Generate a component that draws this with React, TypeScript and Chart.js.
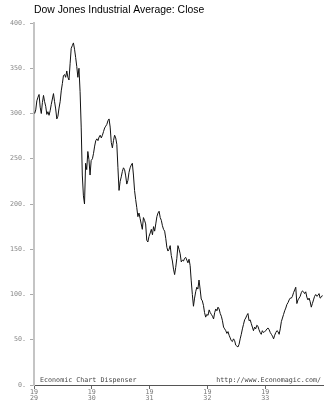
import React, { useEffect, useRef } from 'react';
import { Chart, registerables } from 'chart.js';

Chart.register(...registerables);

const TITLE = 'Dow Jones Industrial Average: Close';
const FOOT_LEFT = 'Economic Chart Dispenser';
const FOOT_RIGHT = 'http://www.Economagic.com/';

const years = [1929, 1930, 1931, 1932, 1933];

// weekly closes
const close1929 = [
  300, 304, 314, 318, 321, 307, 300, 312, 320, 313, 308, 299, 302, 298, 303, 310,
  316, 322, 313, 305, 294, 297, 306, 313, 325, 333, 342, 343, 340, 347, 340, 337,
  355, 372, 375, 378, 371, 362, 352, 340, 350, 324, 285, 232, 209, 200, 245, 238,
  258, 249, 232, 248,
];
const close1930 = [
  250, 256, 264, 270, 272, 270, 274, 276, 273, 276, 280, 284, 286, 288, 292, 294,
  285, 268, 262, 270, 276, 273, 266, 240, 215, 225, 230, 236, 240, 238, 231, 222,
  226, 235, 240, 243, 245, 232, 215, 205, 196, 186, 190, 184, 178, 172, 185, 182,
  178, 160, 158, 164,
];
const close1931 = [
  168, 172, 166, 175, 170, 178, 186, 190, 192, 185, 182, 176, 172, 170, 162, 152,
  148, 150, 154, 143, 137, 128, 122, 130, 140, 154, 150, 145, 136, 138, 137, 140,
  141, 138, 135, 139, 132, 115, 100, 87, 96, 103, 108, 106, 116, 106, 95, 93,
  88, 80, 75, 78,
];
const close1932 = [
  77, 83, 80, 78, 76, 73, 80, 84, 82, 86, 84, 79, 76, 71, 64, 62,
  60, 57, 59, 55, 52, 49, 48, 51, 49, 44, 43, 42, 45, 51, 56, 62,
  67, 72, 74, 77, 79, 71, 72, 68, 64, 60, 64, 62, 66, 65, 61, 58,
  56, 60, 58, 59,
];
const close1933 = [
  60, 62, 63, 61, 58, 56, 54, 51, 55, 58, 60, 59, 56, 62, 70, 74,
  78, 82, 85, 89, 91, 94, 96, 96, 98, 102, 105, 108, 90, 94, 96, 98,
  102, 104, 103, 101, 103, 97, 94, 96, 92, 86, 90, 94, 98, 100, 98, 99,
  101, 96, 97, 99,
];

const yTickValues = [0, 50, 100, 150, 200, 250, 300, 350, 400];

export default function App() {
  const ref = useRef<HTMLCanvasElement>(null);

  useEffect(() => {
    if (!ref.current) return;
    const series = [close1929, close1930, close1931, close1932, close1933];
    const points: { x: number; y: number }[] = [];
    series.forEach((arr, yi) => {
      arr.forEach((v, wi) => {
        points.push({ x: years[yi] + (wi * 7 + 4) / 365, y: v });
      });
    });

    const mono = '"DejaVu Sans Mono", monospace';

    const textPlugin = {
      id: 'texts',
      afterDraw(chart: any) {
        const ctx = chart.ctx;
        ctx.save();
        ctx.fillStyle = '#000';
        ctx.font = '10.4px "Liberation Sans", Arial, sans-serif';
        ctx.textAlign = 'left';
        ctx.textBaseline = 'middle';
        ctx.fillText(TITLE, 34, 10);
        ctx.fillStyle = '#444';
        ctx.font = '6.7px ' + mono;
        ctx.textBaseline = 'alphabetic';
        ctx.fillText(FOOT_LEFT, 40, 382);
        ctx.textAlign = 'right';
        ctx.fillText(FOOT_RIGHT, 321, 382);
        ctx.restore();
      },
    };

    const chart = new Chart(ref.current, {
      type: 'line',
      data: {
        datasets: [
          {
            data: points,
            borderColor: '#111',
            borderWidth: 1,
            pointRadius: 0,
            tension: 0,
            fill: false,
          },
        ],
      },
      options: {
        responsive: false,
        animation: false,
        layout: { padding: { top: 23, right: 10, left: 0, bottom: 0 } },
        plugins: {
          legend: { display: false },
          tooltip: { enabled: false },
          title: { display: false },
        },
        scales: {
          x: {
            type: 'linear',
            min: 1929,
            max: 1934,
            afterBuildTicks: (scale: any) => {
              scale.ticks = years.map((y) => ({ value: y }));
            },
            afterFit: (scale: any) => {
              scale.height = 15;
            },
            ticks: {
              autoSkip: false,
              maxRotation: 0,
              padding: 1,
              color: '#777',
              font: { family: mono, size: 6.7, lineHeight: 0.8 },
              callback: (v: any) => {
                const s = String(v);
                return [s.slice(0, 2), s.slice(2)];
              },
            },
            grid: { drawOnChartArea: false, drawTicks: true, tickLength: 4, color: '#666' },
            border: { color: '#555', width: 1 },
          },
          y: {
            min: 0,
            max: 400,
            afterBuildTicks: (scale: any) => {
              scale.ticks = yTickValues.map((v) => ({ value: v }));
            },
            afterFit: (scale: any) => {
              scale.width = 34;
            },
            ticks: {
              autoSkip: false,
              padding: 4,
              color: '#888',
              font: { family: mono, size: 6.7 },
              callback: (v: any) => v + '.',
            },
            grid: { drawOnChartArea: false, drawTicks: true, tickLength: 4, color: '#aaa' },
            border: { color: '#c4c4c4', width: 2 },
          },
        },
      },
      plugins: [textPlugin],
    });

    return () => chart.destroy();
  }, []);

  return (
    <div style={{ position: 'fixed', left: 0, top: 0, width: 333, height: 400, background: '#fff' }}>
      <canvas ref={ref} width={333} height={400} />
    </div>
  );
}
